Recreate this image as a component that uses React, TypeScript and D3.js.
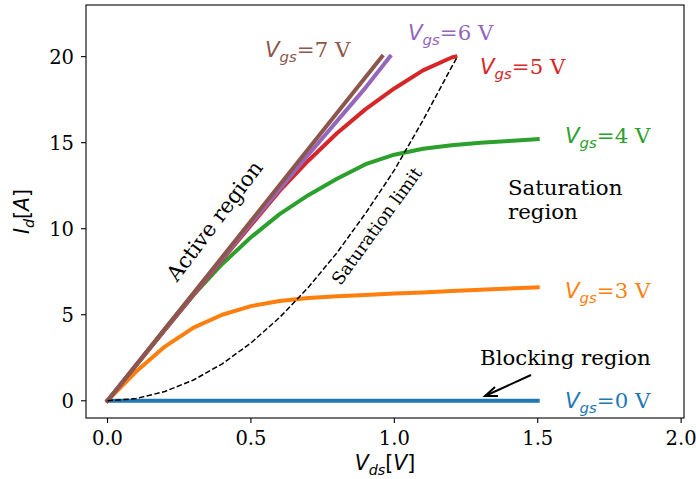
import React from "react";
import * as d3 from "d3";

const W = 696;
const H = 479;

const vdsBlue = [0, 0.5, 1.0, 1.5];
const idBlue = [0, 0, 0, 0];

const vdsOrange = [0, 0.1, 0.2, 0.3, 0.4, 0.5, 0.6, 0.7, 0.8, 0.9, 1.0, 1.1, 1.2, 1.3, 1.4, 1.5];
const idOrange = [0, 1.7, 3.15, 4.25, 5.0, 5.5, 5.8, 5.97, 6.07, 6.15, 6.23, 6.3, 6.38, 6.45, 6.53, 6.6];

const vdsGreen = [0, 0.1, 0.2, 0.3, 0.4, 0.5, 0.6, 0.7, 0.8, 0.9, 1.0, 1.1, 1.2, 1.3, 1.4, 1.5];
const idGreen = [0, 2.07, 4.12, 6.15, 7.95, 9.5, 10.85, 11.95, 12.9, 13.75, 14.3, 14.65, 14.85, 15.0, 15.1, 15.2];

const vdsRed = [0, 0.1, 0.2, 0.3, 0.4, 0.5, 0.6, 0.7, 0.8, 0.9, 1.0, 1.1, 1.2, 1.213];
const idRed = [0, 2.07, 4.13, 6.17, 8.2, 10.2, 12.2, 13.95, 15.55, 16.95, 18.15, 19.2, 19.95, 20.0];

const vdsPurple = [0, 0.1, 0.2, 0.3, 0.4, 0.5, 0.6, 0.7, 0.8, 0.9, 0.985];
const idPurple = [0, 2.08, 4.16, 6.22, 8.27, 10.3, 12.3, 14.3, 16.25, 18.2, 20.0];

const vdsBrown = [0, 0.1, 0.2, 0.3, 0.4, 0.5, 0.6, 0.7, 0.8, 0.9, 0.957];
const idBrown = [0, 2.09, 4.18, 6.27, 8.36, 10.45, 12.54, 14.63, 16.72, 18.81, 20.0];

const vdsLimit = [0, 0.1, 0.2, 0.3, 0.4, 0.5, 0.6, 0.7, 0.8, 0.9, 1.0, 1.1, 1.2, 1.22];
const idLimit = [0, 0.13, 0.54, 1.21, 2.15, 3.36, 4.84, 6.59, 8.6, 10.9, 13.4, 16.3, 19.4, 20.0];

const xTicks = [0, 0.5, 1.0, 1.5, 2.0];
const yTicks = [0, 5, 10, 15, 20];

const series = [
  { name: "0", vds: vdsBlue, id: idBlue, color: "#1f77b4" },
  { name: "3", vds: vdsOrange, id: idOrange, color: "#ff7f0e" },
  { name: "4", vds: vdsGreen, id: idGreen, color: "#2ca02c" },
  { name: "5", vds: vdsRed, id: idRed, color: "#d62728" },
  { name: "6", vds: vdsPurple, id: idPurple, color: "#9467bd" },
  { name: "7", vds: vdsBrown, id: idBrown, color: "#8c564b" },
];

const SERIF = "'DejaVu Serif', serif";
const SANS = "'DejaVu Sans', sans-serif";
const FS = 21.3;

function VgsLabel({ x, y, v, color, size = FS }: { x: number; y: number; v: string; color: string; size?: number }) {
  return (
    <text x={x} y={y} fill={color} fontSize={size}>
      <tspan fontFamily={SANS} fontStyle="italic">V</tspan>
      <tspan fontFamily={SANS} fontStyle="italic" fontSize={size * 0.7} dy={size * 0.22}>gs</tspan>
      <tspan fontFamily={SERIF} dy={-size * 0.22}>{`=${v} V`}</tspan>
    </text>
  );
}

export default function App() {
  const x = d3.scaleLinear().domain([-0.075, 2.01]).range([86, 684]);
  const y = d3.scaleLinear().domain([-1, 23]).range([418, 5]);

  const line = d3
    .line<[number, number]>()
    .x((d) => x(d[0]))
    .y((d) => y(d[1]));

  const pts = (a: number[], b: number[]) => a.map((v, i) => [v, b[i]] as [number, number]);

  const left = x.range()[0];
  const right = x.range()[1];
  const top = y.range()[1];
  const bottom = y.range()[0];

  return (
    <svg width={W} height={H} style={{ position: "absolute", left: 0, top: 0, background: "#fff" }}>
      <rect x={0} y={0} width={W} height={H} fill="#fff" />
      <defs>
        <clipPath id="clip">
          <rect x={left} y={top} width={right - left} height={bottom - top} />
        </clipPath>
      </defs>
      <g clipPath="url(#clip)">
        {series.map((s) => (
          <path
            key={s.name}
            d={line(pts(s.vds, s.id)) || ""}
            fill="none"
            stroke={s.color}
            strokeWidth={4}
            strokeLinejoin="round"
            strokeLinecap="square"
          />
        ))}
        <path
          d={line(pts(vdsLimit, idLimit)) || ""}
          fill="none"
          stroke="#000"
          strokeWidth={1.5}
          strokeDasharray="5.5,2.4"
        />
      </g>

      {/* spines */}
      <rect x={left} y={top} width={right - left} height={bottom - top} fill="none" stroke="#000" strokeWidth={1.1} />

      {/* x ticks */}
      {xTicks.map((t) => (
        <g key={`x${t}`}>
          <line x1={x(t)} x2={x(t)} y1={bottom} y2={bottom + 5} stroke="#000" strokeWidth={1.1} />
          <text x={x(t)} y={bottom + 27} textAnchor="middle" fontFamily={SERIF} fontSize={19.5}>
            {t.toFixed(1)}
          </text>
        </g>
      ))}
      {/* y ticks */}
      {yTicks.map((t) => (
        <g key={`y${t}`}>
          <line x1={left - 5} x2={left} y1={y(t)} y2={y(t)} stroke="#000" strokeWidth={1.1} />
          <text x={left - 12} y={y(t) + 7} textAnchor="end" fontFamily={SERIF} fontSize={19.5}>
            {t}
          </text>
        </g>
      ))}

      {/* axis labels */}
      <text x={(left + right) / 2} y={470} textAnchor="middle" fontSize={20.5}>
        <tspan fontFamily={SANS} fontStyle="italic">V</tspan>
        <tspan fontFamily={SANS} fontStyle="italic" fontSize={14.3} dy={4.5}>ds</tspan>
        <tspan fontFamily={SANS} dy={-4.5}>[</tspan>
        <tspan fontFamily={SANS} fontStyle="italic">V</tspan>
        <tspan fontFamily={SANS}>]</tspan>
      </text>
      <text transform={`translate(29,${(top + bottom) / 2}) rotate(-90)`} textAnchor="middle" fontSize={20.5}>
        <tspan fontFamily={SANS} fontStyle="italic">I</tspan>
        <tspan fontFamily={SANS} fontStyle="italic" fontSize={14.3} dy={4.5}>d</tspan>
        <tspan fontFamily={SANS} dy={-4.5}>[</tspan>
        <tspan fontFamily={SANS} fontStyle="italic">A</tspan>
        <tspan fontFamily={SANS}>]</tspan>
      </text>

      {/* series labels */}
      <VgsLabel x={265} y={57} v="7" color="#8c564b" />
      <VgsLabel x={408} y={40} v="6" color="#9467bd" />
      <VgsLabel x={480} y={74} v="5" color="#d62728" />
      <VgsLabel x={565} y={143} v="4" color="#2ca02c" />
      <VgsLabel x={565} y={298} v="3" color="#ff7f0e" />
      <VgsLabel x={565} y={408} v="0" color="#1f77b4" />

      {/* region annotations */}
      <text x={508} y={195} fontFamily={SERIF} fontSize={FS}>Saturation</text>
      <text x={508} y={219} fontFamily={SERIF} fontSize={FS}>region</text>
      <text x={480} y={365} fontFamily={SERIF} fontSize={FS}>Blocking region</text>
      <text
        transform="translate(216,222) rotate(-53)"
        textAnchor="middle"
        dominantBaseline="middle"
        fontFamily={SERIF}
        fontSize={FS}
      >
        Active region
      </text>
      <text
        transform="translate(378,227) rotate(-54)"
        textAnchor="middle"
        dominantBaseline="middle"
        fontFamily={SERIF}
        fontSize={17.5}
      >
        Saturation limit
      </text>

      {/* arrow */}
      <line x1={531} y1={375} x2={485} y2={396} stroke="#000" strokeWidth={2} />
      <path d="M 495,387 L 485,396 L 498,396" fill="none" stroke="#000" strokeWidth={2} strokeLinejoin="miter" />
    </svg>
  );
}
